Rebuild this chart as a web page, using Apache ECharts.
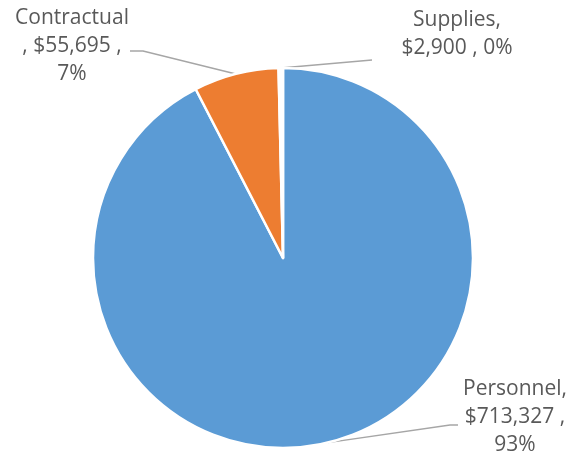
<!DOCTYPE html>
<html>
<head>
<meta charset="utf-8">
<script src="https://cdn.jsdelivr.net/npm/echarts@6/dist/echarts.min.js"></script>
<style>
  html, body { margin: 0; padding: 0; background: #fff; }
  #chart { width: 579px; height: 460px; }
</style>
</head>
<body>
<div id="chart"></div>
<script>
// Budget categories and their amounts (USD)
const categories = ['Personnel', 'Contractual', 'Supplies'];
const amounts = [713327, 55695, 2900];
const percentLabels = ['93%', '7%', '0%'];
// Supplies slice is left unfilled (white)
const colors = ['#5B9BD5', '#ED7D31', '#FFFFFF'];

// Label box centers and the bend/end points of each leader line
const labelSpots = [
  { x: 515, y: 417, bend: [450, 425], end: [458, 425] },
  { x: 72, y: 46, bend: [143, 51], end: [130, 51] },
  { x: 457, y: 34, bend: [372, 60], end: [372, 60] }
];

function money(v) {
  return '$' + v.toLocaleString('en-US');
}

function labelText(i) {
  const name = categories[i], val = money(amounts[i]), pct = percentLabels[i];
  if (i === 0) return name + ',\n' + val + ' ,\n' + pct;
  if (i === 1) return name + '\n, ' + val + ' ,\n' + pct;
  return name + ',\n' + val + ' , ' + pct;
}

const chart = echarts.init(document.getElementById('chart'), null, { renderer: 'canvas' });

chart.setOption({
  backgroundColor: '#ffffff',
  animation: false,
  series: [{
    type: 'pie',
    center: [283, 258],
    radius: 190,
    startAngle: 90,
    clockwise: true,
    avoidLabelOverlap: false,
    data: categories.map((c, i) => ({
      name: c,
      value: amounts[i],
      itemStyle: { color: colors[i] }
    })),
    itemStyle: { borderColor: '#ffffff', borderWidth: 2.5 },
    label: {
      show: true,
      formatter: p => labelText(p.dataIndex),
      fontFamily: '"Open Sans", sans-serif',
      fontSize: 21,
      lineHeight: 28,
      color: '#595959',
      align: 'center'
    },
    labelLine: {
      show: true,
      length: 15,
      length2: 10,
      lineStyle: { color: '#A6A6A6', width: 1.5 }
    },
    labelLayout: function (params) {
      const s = labelSpots[params.dataIndex];
      const out = { x: s.x, y: s.y, align: 'center', verticalAlign: 'middle' };
      if (params.labelLinePoints) {
        out.labelLinePoints = [params.labelLinePoints[0], s.bend, s.end];
      }
      return out;
    },
    emphasis: { disabled: true }
  }]
});
</script>
</body>
</html>
